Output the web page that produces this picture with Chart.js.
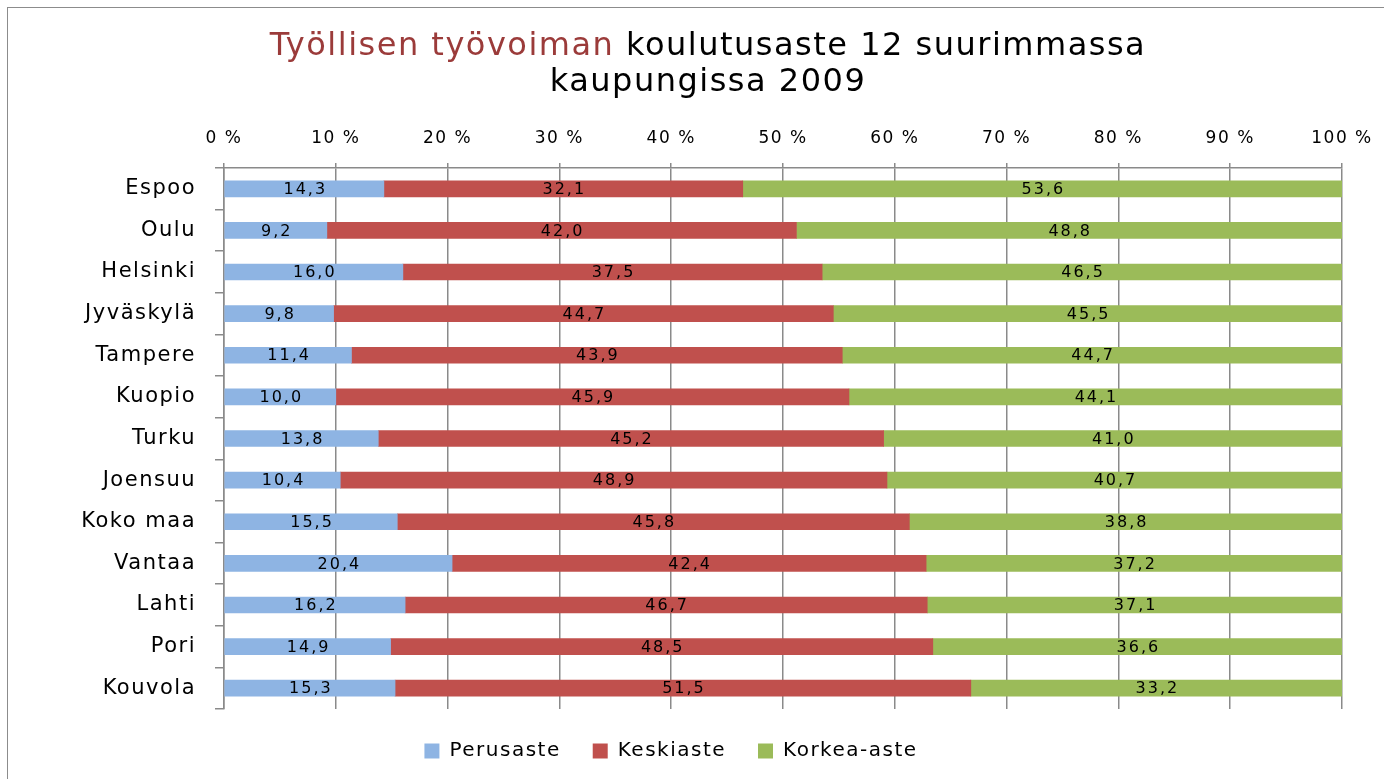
<!DOCTYPE html>
<html>
<head>
<meta charset="utf-8">
<script src="https://cdn.jsdelivr.net/npm/chart.js@4.4.1/dist/chart.umd.min.js"></script>
<style>
  body { margin: 0; background: #fff; overflow: hidden; }
  #frame { position: absolute; left: 7px; top: 7px; width: 1400px; height: 800px; border: 1px solid #8c8c8c; }
  #wrap { position: absolute; left: 0; top: 0; width: 1384px; height: 779px; }
</style>
</head>
<body>
<div id="frame"></div>
<div id="wrap"><canvas id="chart" width="1384" height="779"></canvas></div>
<script>
// Cities, top to bottom
const cities = ['Espoo', 'Oulu', 'Helsinki', 'Jyväskylä', 'Tampere', 'Kuopio', 'Turku',
  'Joensuu', 'Koko maa', 'Vantaa', 'Lahti', 'Pori', 'Kouvola'];

// Shares (%) by education level
const perusaste = [14.3, 9.2, 16.0, 9.8, 11.4, 10.0, 13.8, 10.4, 15.5, 20.4, 16.2, 14.9, 15.3];
const keskiaste = [32.1, 42.0, 37.5, 44.7, 43.9, 45.9, 45.2, 48.9, 45.8, 42.4, 46.7, 48.5, 51.5];
const korkeaAste = [53.6, 48.8, 46.5, 45.5, 44.7, 44.1, 41.0, 40.7, 38.8, 37.2, 37.1, 36.6, 33.2];

const seriesNames = ['Perusaste', 'Keskiaste', 'Korkea-aste'];
const colors = ['#8eb4e3', '#c0504d', '#9bbb59'];

const titleRed = 'Työllisen työvoiman';
const titleRest = ' koulutusaste 12 suurimmassa';
const titleLine2 = 'kaupungissa 2009';

const FONT = '"DejaVu Sans", Verdana, sans-serif';
const gridColor = '#8a8a8a';

// spacing for all text the chart draws
const spacingPlugin = {
  id: 'spacing',
  beforeLayout(chart) { chart.ctx.letterSpacing = '1.5px'; },
  beforeDraw(chart) { chart.ctx.letterSpacing = '1.5px'; }
};

// two-colour title
const titlePlugin = {
  id: 'twoColorTitle',
  afterDraw(chart) {
    const ctx = chart.ctx;
    ctx.save();
    ctx.font = '32px ' + FONT;
    ctx.letterSpacing = '1.5px';
    ctx.textBaseline = 'alphabetic';
    ctx.textAlign = 'left';
    const w1 = ctx.measureText(titleRed).width;
    const w2 = ctx.measureText(titleRest).width;
    const cx = 708;
    let x = cx - (w1 + w2) / 2;
    ctx.fillStyle = '#9b3b3a';
    ctx.fillText(titleRed, x, 55);
    ctx.fillStyle = '#000';
    ctx.fillText(titleRest, x + w1, 55);
    ctx.textAlign = 'center';
    ctx.fillText(titleLine2, cx, 91);
    ctx.restore();
  }
};

// values inside the bars
const valueLabels = {
  id: 'valueLabels',
  afterDatasetsDraw(chart) {
    const ctx = chart.ctx;
    ctx.save();
    ctx.font = '16px ' + FONT;
    ctx.letterSpacing = '2px';
    ctx.fillStyle = '#000';
    ctx.textAlign = 'center';
    ctx.textBaseline = 'middle';
    chart.data.datasets.forEach((ds, i) => {
      chart.getDatasetMeta(i).data.forEach((bar, j) => {
        const left = Math.min(bar.x, bar.base);
        const right = Math.min(Math.max(bar.x, bar.base), chart.chartArea.right);
        const txt = ds.data[j].toFixed(1).replace('.', ',');
        ctx.fillText(txt, (left + right) / 2 + 1, bar.y + 1);
      });
    });
    ctx.restore();
  }
};

new Chart(document.getElementById('chart'), {
  type: 'bar',
  data: {
    labels: cities,
    datasets: [perusaste, keskiaste, korkeaAste].map((d, i) => ({
      label: seriesNames[i],
      data: d,
      backgroundColor: colors[i],
      borderWidth: 0,
      barThickness: 16
    }))
  },
  options: {
    indexAxis: 'y',
    responsive: false,
    animation: false,
    layout: { padding: { top: 100, right: 42, bottom: 8, left: 0 } },
    scales: {
      x: {
        position: 'top',
        stacked: true,
        min: 0,
        max: 100,
        afterFit: s => { s.height = 68; s.paddingLeft = 0; s.paddingRight = 0; },
        ticks: {
          stepSize: 10,
          padding: 14,
          color: '#000',
          font: { family: FONT, size: 17 },
          callback: v => v + ' %'
        },
        grid: { color: gridColor, lineWidth: 1.5, tickLength: 5, tickColor: gridColor },
        border: { color: gridColor, width: 1.5 }
      },
      y: {
        stacked: true,
        afterFit: s => { s.width = 224; },
        ticks: {
          padding: 19,
          color: '#000',
          font: { family: FONT, size: 21 }
        },
        grid: { drawOnChartArea: false, tickLength: 9, tickColor: gridColor, lineWidth: 1.5 },
        border: { color: gridColor, width: 1.5 }
      }
    },
    plugins: {
      title: { display: false },
      tooltip: { enabled: false },
      legend: {
        position: 'bottom',
        labels: {
          boxWidth: 15,
          boxHeight: 15,
          padding: 32,
          color: '#000',
          font: { family: FONT, size: 20 }
        }
      }
    }
  },
  plugins: [spacingPlugin, titlePlugin, valueLabels]
});
</script>
</body>
</html>
